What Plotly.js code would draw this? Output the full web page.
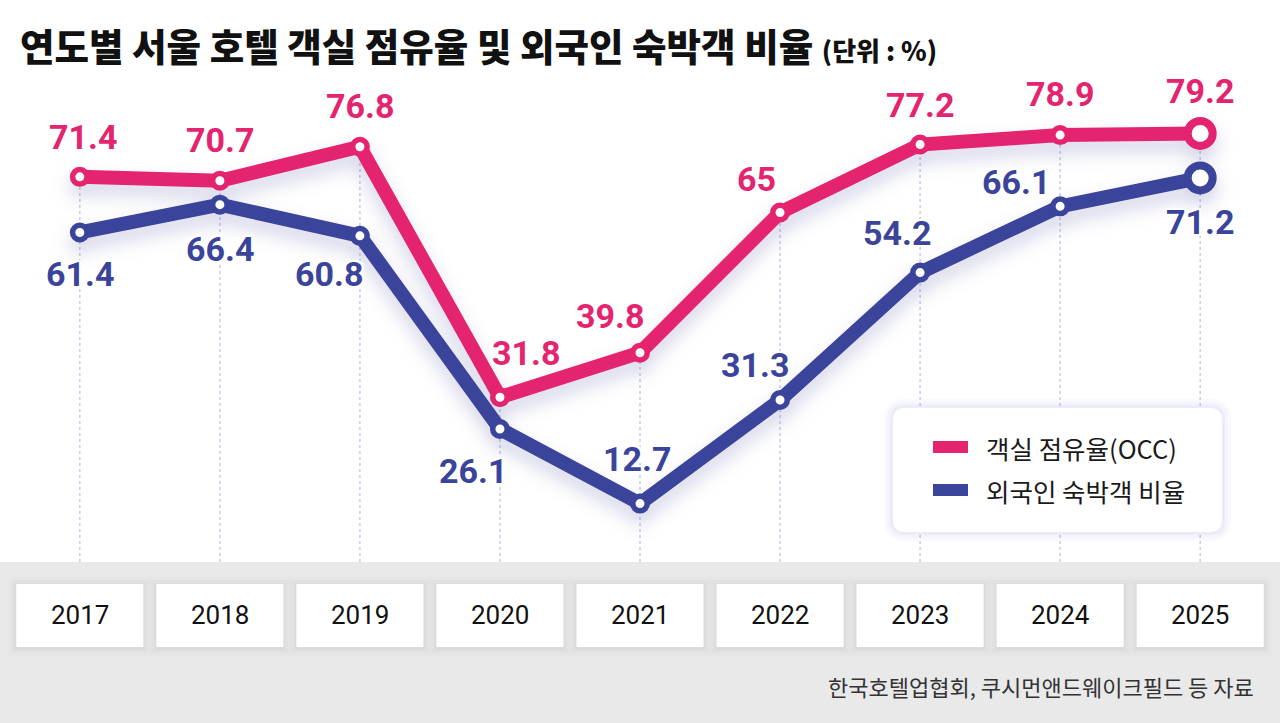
<!DOCTYPE html>
<html>
<head>
<meta charset="utf-8">
<script src="https://cdn.plot.ly/plotly-3.0.1.min.js"></script>
<style>
  body { margin: 0; background: #fff; }
  #chart { width: 1280px; height: 723px; }
</style>
</head>
<body>
<div id="chart"></div>
<script>
// 연도별 서울 호텔 객실 점유율 및 외국인 숙박객 비율 (단위 : %)
const years = [2017, 2018, 2019, 2020, 2021, 2022, 2023, 2024, 2025];
const occupancy = [71.4, 70.7, 76.8, 31.8, 39.8, 65, 77.2, 78.9, 79.2];
const foreignShare = [61.4, 66.4, 60.8, 26.1, 12.7, 31.3, 54.2, 66.1, 71.2];
const seriesNames = ['객실 점유율(OCC)', '외국인 숙박객 비율'];
const titleText = '연도별 서울 호텔 객실 점유율 및 외국인 숙박객 비율';
const unitText = '(단위 : %)';
const sourceText = '한국호텔업협회, 쿠시먼앤드웨이크필드 등 자료';

// label offsets in px [x, y] (y up)
const occShift = [[3, 40], [0, 41], [0, 41], [26, 44], [-30, 37], [-24, 33], [0, 40], [0, 41], [0, 42]];
const forShift = [[0, -42], [0, -44], [-31, -38], [-27, -42], [-3, 45], [-25, 35], [-23, 40], [-44, 24], [0, -44]];

const PINK = '#e4246e';
const NAVY = '#3b449b';
const W = 1280, H = 723, TOP = 90, BOTTOM = 562;
const YMIN = 2.2, YMAX = 87;

// pixel -> paper helpers
const px = x => x / W;
const py = y => (BOTTOM - y) / (BOTTOM - TOP);

function roundRect(x0, y0, x1, y1, r) {
  const P = (x, y) => px(x) + ',' + py(y);
  return 'M' + P(x0 + r, y0) + ' L' + P(x1 - r, y0) + ' Q' + P(x1, y0) + ' ' + P(x1, y0 + r) +
    ' L' + P(x1, y1 - r) + ' Q' + P(x1, y1) + ' ' + P(x1 - r, y1) +
    ' L' + P(x0 + r, y1) + ' Q' + P(x0, y1) + ' ' + P(x0, y1 - r) +
    ' L' + P(x0, y0 + r) + ' Q' + P(x0, y0) + ' ' + P(x0 + r, y0) + ' Z';
}

const last = years.length - 1;
const mSize = years.map((_, i) => i === last ? 25 : 14.5);
const mLine = years.map((_, i) => i === last ? 8 : 5.5);

function lineTrace(vals, color, name) {
  return {
    x: years, y: vals, name: name, type: 'scatter', mode: 'lines+markers',
    line: { color: color, width: 14 },
    marker: { size: mSize, opacity: 1, color: '#fff', line: { color: color, width: mLine } },
    cliponaxis: false, hoverinfo: 'skip', showlegend: false
  };
}

const outline = '-2px -2px 0 #fff, 2px -2px 0 #fff, -2px 2px 0 #fff, 2px 2px 0 #fff, 0 2px 0 #fff, 2px 0 0 #fff, 0 -2px 0 #fff, -2px 0 0 #fff';

const annotations = [];
function addLabels(vals, shifts, color) {
  vals.forEach((v, i) => {
    annotations.push({
      x: years[i], y: v, xref: 'x', yref: 'y', text: String(v), showarrow: false,
      xanchor: 'center', yanchor: 'middle',
      xshift: shifts[i][0], yshift: shifts[i][1],
      font: { family: 'Roboto', size: 34, weight: 700, color: color, shadow: outline }
    });
  });
}
addLabels(occupancy, occShift, PINK);
addLabels(foreignShare, forShift, NAVY);

const shapes = [];
// dotted guides from top point down to the band
years.forEach((yr, i) => {
  shapes.push({
    type: 'line', xref: 'x', yref: 'y', x0: yr, x1: yr, y0: YMIN, y1: Math.max(occupancy[i], foreignShare[i]),
    line: { color: '#c9cbe9', width: 1.5, dash: 'dot' }, layer: 'below'
  });
});
// grey band
shapes.push({
  type: 'rect', xref: 'paper', yref: 'paper', x0: 0, x1: 1, y0: py(H), y1: py(BOTTOM),
  fillcolor: '#e9e9e9', line: { width: 0 }, layer: 'below'
});
// year boxes
const half = 63.5 / 140;
years.forEach(yr => {
  [[8, 'rgba(0,0,0,0.012)'], [5, 'rgba(0,0,0,0.018)'], [2, 'rgba(0,0,0,0.025)']].forEach(s => {
    shapes.push({
      type: 'rect', xref: 'x', yref: 'paper', x0: yr - half - s[0] / 140, x1: yr + half + s[0] / 140,
      y0: py(647 + s[0] + 1), y1: py(584 - s[0] + 1), fillcolor: s[1], line: { width: 0 }, layer: 'below'
    });
  });
  shapes.push({
    type: 'rect', xref: 'x', yref: 'paper', x0: yr - half, x1: yr + half, y0: py(647), y1: py(584),
    fillcolor: '#fff', line: { width: 0 }, layer: 'below'
  });
  annotations.push({
    x: yr, xref: 'x', yref: 'paper', y: py(615), text: String(yr), showarrow: false,
    xanchor: 'center', yanchor: 'middle',
    font: { family: 'Roboto', size: 26, color: '#111' }
  });
});
// legend box
[[9, 'rgba(110,110,220,0.035)'], [6, 'rgba(110,110,220,0.045)'], [3, 'rgba(110,110,220,0.06)']].forEach(s => {
  shapes.push({
    type: 'path', xref: 'paper', yref: 'paper', path: roundRect(893 - s[0], 408 - s[0], 1222 + s[0], 532 + s[0], 12 + s[0]),
    fillcolor: s[1], line: { width: 0 }, layer: 'above'
  });
});
shapes.push({
  type: 'path', xref: 'paper', yref: 'paper', path: roundRect(893, 408, 1222, 532, 12),
  fillcolor: '#fff', line: { width: 0 }, layer: 'above'
});
[[PINK, 447], [NAVY, 490]].forEach((it, k) => {
  shapes.push({
    type: 'rect', xref: 'paper', yref: 'paper', x0: px(933), x1: px(968), y0: py(it[1] + 6), y1: py(it[1] - 6),
    fillcolor: it[0], line: { width: 0 }, layer: 'above'
  });
  annotations.push({
    xref: 'paper', yref: 'paper', x: px(984), y: py(it[1]), xanchor: 'left', yanchor: 'middle',
    text: seriesNames[k], showarrow: false,
    font: { family: 'Noto Sans CJK KR', size: 25.5, color: '#1a1a1a' }
  });
});
// source
annotations.push({
  xref: 'paper', yref: 'paper', x: px(1256), y: py(686), xanchor: 'right', yanchor: 'middle',
  text: sourceText, showarrow: false,
  font: { family: 'Noto Sans CJK KR', size: 22, color: '#333' }
});

const layout = {
  width: W, height: H,
  margin: { l: 0, r: 0, t: TOP, b: H - BOTTOM, pad: 0 },
  paper_bgcolor: '#fff', plot_bgcolor: 'rgba(0,0,0,0)',
  title: {
    text: titleText + ' <span style="font-size:26px">' + unitText + '</span>',
    x: px(20), xanchor: 'left', xref: 'paper', yref: 'container', y: 1 - 48 / H, yanchor: 'middle',
    font: { family: 'Noto Sans CJK KR', size: 37.5, weight: 900, color: '#111' }
  },
  xaxis: { range: [2016.43, 2025.57], showgrid: false, zeroline: false, showticklabels: false, showline: false, fixedrange: true },
  yaxis: { range: [YMIN, YMAX], showgrid: false, zeroline: false, showticklabels: false, showline: false, fixedrange: true },
  shapes: shapes,
  annotations: annotations,
  showlegend: false
};

Plotly.newPlot('chart', [
  lineTrace(occupancy, PINK, seriesNames[0]),
  lineTrace(foreignShare, NAVY, seriesNames[1])
], layout, { staticPlot: true }).then(() => {
  document.querySelectorAll('.scatterlayer .trace').forEach(g => {
    g.style.filter = 'drop-shadow(0px 10px 9px rgba(70,70,160,0.25))';
  });
});
</script>
</body>
</html>
